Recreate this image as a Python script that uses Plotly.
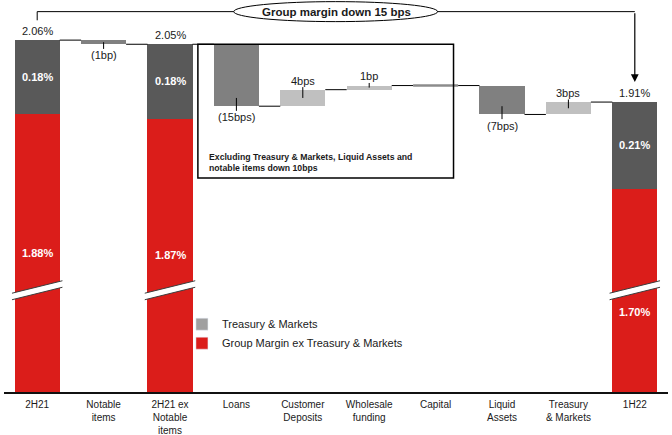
import plotly.graph_objects as go

# ---------------- data ----------------
categories = ["2H21", "Notable<br>items", "2H21 ex<br>Notable<br>items", "Loans",
              "Customer<br>Deposits", "Wholesale<br>funding", "Capital",
              "Liquid<br>Assets", "Treasury<br>& Markets", "1H22"]

total_idx = [0, 2, 9]
total_group_ex_tm = [1.88, 1.87, 1.70]      # % (red)
total_tm = [0.18, 0.18, 0.21]               # % (dark grey)
total_labels = ["2.06%", "2.05%", "1.91%"]
total_inner_tm = ["0.18%", "0.18%", "0.21%"]
total_inner_red = ["1.88%", "1.87%", "1.70%"]

step_idx = [1, 3, 4, 5, 6, 7, 8]
step_bps = [-1, -15, 4, 1, 0, -7, 3]
step_labels = ["(1bp)", "(15bps)", "4bps", "1bp", "", "(7bps)", "3bps"]

legend_names = ["Treasury & Markets", "Group Margin ex Treasury & Markets"]
headline = "Group margin down 15 bps"
box_text = "Excluding Treasury & Markets, Liquid Assets and<br>notable items down 10bps"

# ---------------- style ----------------
FONT = "Arial, Liberation Sans, sans-serif"
RED = "#db1d1a"
DARK = "#595959"
NEG = "#808080"
POS = "#c0c0c0"
LEG_GREY = "#a0a0a0"
AXIS_OFFSET = 1.208          # broken axis: value shown = value - offset
PLOT_H = 392
PX_PER_UNIT = 413.0
YMAX = PLOT_H / PX_PER_UNIT
BAR_W = 0.678
HW = BAR_W / 2
BREAK_Y = 0.2464
BREAK_SLOPE = 0.0151
BREAK_HALF = 0.0079


def disp(v):
    return v - AXIS_OFFSET


# levels at the end of each category
levels = [None] * len(categories)
step_prev = {}
for i in range(len(categories)):
    if i in total_idx:
        k = total_idx.index(i)
        levels[i] = round(total_group_ex_tm[k] + total_tm[k], 4)
    else:
        k = step_idx.index(i)
        step_prev[i] = levels[i - 1]
        levels[i] = round(levels[i - 1] + step_bps[k] / 100.0, 4)

fig = go.Figure()

# totals
fig.add_trace(go.Bar(x=total_idx, y=[disp(r) for r in total_group_ex_tm], base=0,
                     width=BAR_W, marker_color=RED, marker_line_width=0,
                     showlegend=False, hoverinfo="skip"))
fig.add_trace(go.Bar(x=total_idx, y=total_tm, base=[disp(r) for r in total_group_ex_tm],
                     width=BAR_W, marker_color=DARK, marker_line_width=0,
                     showlegend=False, hoverinfo="skip"))

# steps
sx, sy, sb, sc = [], [], [], []
for i, b in zip(step_idx, step_bps):
    if b == 0:
        continue
    prev, new = step_prev[i], levels[i]
    sx.append(i)
    sy.append(abs(b) / 100.0)
    sb.append(disp(min(prev, new)))
    sc.append(NEG if b < 0 else POS)
fig.add_trace(go.Bar(x=sx, y=sy, base=sb, width=BAR_W, marker_color=sc,
                     marker_line_width=0, showlegend=False, hoverinfo="skip"))

# connectors
cx, cy = [], []
for i in range(len(categories) - 1):
    cx += [i + HW, i + 1 - HW, None]
    cy += [disp(levels[i]), disp(levels[i]), None]
fig.add_trace(go.Scatter(x=cx, y=cy, mode="lines", line=dict(color="black", width=1),
                         showlegend=False, hoverinfo="skip"))
# zero steps drawn as a flat line
for i, b in zip(step_idx, step_bps):
    if b == 0:
        fig.add_trace(go.Scatter(x=[i - HW, i + HW], y=[disp(levels[i])] * 2, mode="lines",
                                 line=dict(color="#8c8c8c", width=2.5),
                                 showlegend=False, hoverinfo="skip"))

# legend entries
fig.add_trace(go.Bar(x=[None], y=[None], name=legend_names[0], marker_color=LEG_GREY))
fig.add_trace(go.Bar(x=[None], y=[None], name=legend_names[1], marker_color=RED))

annotations = []
shapes = []

# total labels
for k, i in enumerate(total_idx):
    top = disp(levels[i])
    annotations.append(dict(x=i, y=top, text=total_labels[k], showarrow=False,
                            yanchor="bottom", yshift=1,
                            font=dict(size=11, color="#1a1a1a", family=FONT)))
    red_top = disp(total_group_ex_tm[k])
    annotations.append(dict(x=i, y=red_top + total_tm[k] / 2, text="<b>%s</b>" % total_inner_tm[k],
                            showarrow=False, font=dict(size=11, color="white", family=FONT)))
    yc = red_top / 2
    if abs(yc - BREAK_Y) < 0.035:
        yc = BREAK_Y - 0.052
    annotations.append(dict(x=i, y=yc, text="<b>%s</b>" % total_inner_red[k],
                            showarrow=False, font=dict(size=11, color="white", family=FONT)))
    # axis break
    x0, x1 = i - 0.38, i + 0.38
    yl, yr = BREAK_Y - BREAK_SLOPE, BREAK_Y + BREAK_SLOPE
    shapes.append(dict(type="path", xref="x", yref="y",
                       path="M %f,%f L %f,%f L %f,%f L %f,%f Z" % (
                           x0, yl + BREAK_HALF, x1, yr + BREAK_HALF,
                           x1, yr - BREAK_HALF, x0, yl - BREAK_HALF),
                       fillcolor="white", line=dict(width=0)))
    for s in (1, -1):
        shapes.append(dict(type="line", xref="x", yref="y", x0=x0, x1=x1,
                           y0=yl + s * BREAK_HALF, y1=yr + s * BREAK_HALF,
                           line=dict(color="#3c3c3c", width=1)))

# step labels with leader lines
for k, i in enumerate(step_idx):
    b = step_bps[k]
    if b == 0:
        continue
    h = abs(b) / 100.0
    inside = min(0.02, h / 2)
    end = disp(levels[i])
    if b < 0:
        pt, ty = end + inside, end - 0.027
    else:
        pt, ty = end - inside, end + 0.022
    annotations.append(dict(x=i, y=pt, ax=i, ay=ty, axref="x", ayref="y",
                            text=step_labels[k], showarrow=True, arrowhead=0,
                            arrowwidth=1, arrowcolor="black", standoff=0, startstandoff=0,
                            borderpad=0,
                            font=dict(size=11, color="#1a1a1a", family=FONT)))

# box around the middle steps
box_bottom = 0.518
shapes.append(dict(type="rect", xref="x", yref="y", x0=2.42, x1=6.27,
                   y0=box_bottom, y1=disp(levels[2]),
                   line=dict(color="black", width=1.5), fillcolor="rgba(0,0,0,0)"))
annotations.append(dict(x=2.55, y=box_bottom, yshift=3, xanchor="left", yanchor="bottom",
                        align="left", text="<b>%s</b>" % box_text, showarrow=False,
                        font=dict(size=8.7, color="#1a1a1a", family=FONT)))

# headline ellipse + arrow
HEAD_Y = 0.921
HEAD_HALF = 0.0242
shapes.append(dict(type="path", xref="x", yref="y",
                   path="M 0,%f V %f H 3.0" % (disp(levels[0]) + 0.048, HEAD_Y),
                   line=dict(color="black", width=1)))
shapes.append(dict(type="path", xref="x", yref="y",
                   path="M 6.0,%f H 9" % HEAD_Y,
                   line=dict(color="black", width=1)))
shapes.append(dict(type="circle", xref="x", yref="y", x0=2.96, x1=6.03,
                   y0=HEAD_Y - HEAD_HALF, y1=HEAD_Y + HEAD_HALF,
                   fillcolor="white", line=dict(color="black", width=1)))
annotations.append(dict(x=4.51, y=HEAD_Y, text="<b>%s</b>" % headline, showarrow=False,
                        font=dict(size=11.5, color="#1a1a1a", family=FONT)))
annotations.append(dict(x=9, y=disp(levels[9]) + 0.0485, ax=9, ay=HEAD_Y,
                        axref="x", ayref="y", text="", showarrow=True, arrowhead=2,
                        arrowsize=1.3, arrowwidth=1.2, arrowcolor="black", standoff=0))

fig.update_layout(
    width=672, height=435,
    margin=dict(l=4, r=4, t=0, b=43),
    plot_bgcolor="white", paper_bgcolor="white",
    barmode="overlay", bargap=0,
    font=dict(family=FONT, color="#1a1a1a"),
    xaxis=dict(range=[-0.5, 9.5], tickvals=list(range(len(categories))), ticktext=categories,
               showgrid=False, zeroline=False, showline=True, linecolor="#111111",
               linewidth=1.5, ticks="", ticklabelstandoff=2,
               tickfont=dict(size=10, color="#1a1a1a", family=FONT),
               fixedrange=True),
    yaxis=dict(range=[0, YMAX], visible=False, fixedrange=True),
    legend=dict(x=0.268, y=0.21, xanchor="left", yanchor="top", bgcolor="rgba(0,0,0,0)",
                font=dict(size=11, color="#1a1a1a", family=FONT), tracegroupgap=0),
    shapes=shapes, annotations=annotations,
    showlegend=True,
)

fig.write_html("out.html", config={"displayModeBar": False},
               post_script="document.body.style.margin='0px';")
